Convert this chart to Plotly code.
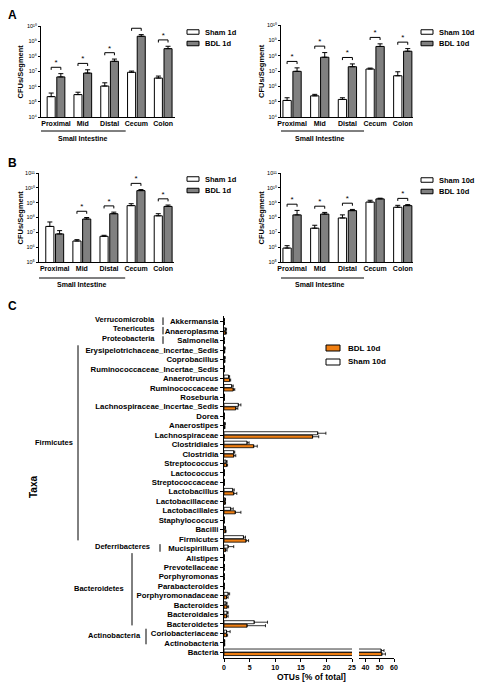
import plotly.graph_objects as go
import math

W, H = 482, 689
FONT = "Arial, Liberation Sans, sans-serif"
ORANGE = "#F07F12"
GRAY = "#808080"

# ---------------- data ----------------
segments = ["Proximal", "Mid", "Distal", "Cecum", "Colon"]

# Panel A, 1 day (CFU / segment, mean and SEM)
a1_sham = [2.2e5, 3.0e5, 1.1e6, 8.9e6, 3.7e6]
a1_sham_sem = [1.6e5, 1.3e5, 7.0e5, 1.8e6, 1.3e6]
a1_bdl = [4.4e6, 7.9e6, 4.7e7, 2.1e9, 3.2e8]
a1_bdl_sem = [2.8e6, 5.1e6, 1.9e7, 6.0e8, 1.4e8]
a1_sig = [True, True, True, True, True]

# Panel A, 10 days
a2_sham = [1.2e5, 2.4e5, 1.4e5, 1.35e7, 4.9e6]
a2_sham_sem = [6.0e4, 6.0e4, 4.0e4, 2.0e6, 4.0e6]
a2_bdl = [9.5e6, 7.9e7, 1.9e7, 4.0e8, 1.95e8]
a2_bdl_sem = [6.5e6, 8.0e7, 1.0e7, 1.9e8, 9.5e7]
a2_sig = [True, True, True, True, True]

# Panel B, 1 day
b1_sham = [2.5e7, 2.6e6, 5.4e6, 6.3e8, 1.3e8]
b1_sham_sem = [2.5e7, 6.0e5, 9.0e5, 2.2e8, 5.0e7]
b1_bdl = [7.8e6, 7.9e7, 1.8e8, 6.5e9, 5.6e8]
b1_bdl_sem = [5.2e6, 2.1e7, 5.0e7, 1.1e9, 1.3e8]
b1_sig = [False, True, True, True, True]

# Panel B, 10 days
b2_sham = [8.7e5, 1.9e7, 9.3e7, 1.1e9, 4.9e8]
b2_sham_sem = [3.9e5, 1.1e7, 5.7e7, 3.5e8, 1.7e8]
b2_bdl = [1.5e8, 1.7e8, 2.9e8, 1.8e9, 6.3e8]
b2_bdl_sem = [1.5e8, 5.0e7, 6.0e7, 2.0e8, 1.1e8]
b2_sig = [True, True, True, False, True]

# Panel C: OTUs [% of total]
taxa = ["Akkermansia", "Anaeroplasma", "Salmonella",
        "Erysipelotrichaceae_Incertae_Sedis", "Coprobacillus",
        "Ruminococcaceae_Incertae_Sedis", "Anaerotruncus", "Ruminococcaceae",
        "Roseburia", "Lachnospiraceae_Incertae_Sedis", "Dorea", "Anaerostipes",
        "Lachnospiraceae", "Clostridiales", "Clostridia", "Streptococcus",
        "Lactococcus", "Streptococcaceae", "Lactobacillus", "Lactobacillaceae",
        "Lactobacillales", "Staphylococcus", "Bacilli", "Firmicutes",
        "Mucispirillum", "Alistipes", "Prevotellaceae", "Porphyromonas",
        "Parabacteroides", "Porphyromonadaceae", "Bacteroides", "Bacteroidales",
        "Bacteroidetes", "Coriobacteriaceae", "Actinobacteria", "Bacteria"]
c_sham = [0.05, 0.3, 0.03, 0.1, 0.1, 0.03, 0.9, 1.5, 0.05, 2.8, 0.05, 0.15,
          18.3, 4.5, 1.9, 0.4, 0.05, 0.05, 1.7, 0.2, 1.3, 0.05, 0.2, 3.8,
          0.8, 0.05, 0.05, 0.03, 0.03, 0.8, 0.4, 0.6, 5.9, 0.5, 0.1, 51.0]
c_sham_sem = [0.05, 0.2, 0.02, 0.15, 0.15, 0.02, 0.2, 0.3, 0.03, 0.5, 0.03, 0.1,
              1.6, 0.4, 0.2, 0.2, 0.03, 0.03, 0.3, 0.1, 0.5, 0.03, 0.1, 0.4,
              1.1, 0.03, 0.03, 0.02, 0.02, 0.3, 0.2, 0.2, 2.6, 0.7, 0.05, 2.0]
c_bdl = [0.05, 0.3, 0.03, 0.05, 0.1, 0.02, 1.1, 1.8, 0.05, 2.3, 0.03, 0.1,
         17.3, 5.8, 1.9, 0.5, 0.05, 0.05, 1.9, 0.2, 2.2, 0.03, 0.3, 4.3,
         0.3, 0.03, 0.03, 0.02, 0.02, 0.5, 0.6, 0.5, 4.5, 0.5, 0.1, 51.5]
c_bdl_sem = [0.05, 0.2, 0.02, 0.1, 0.1, 0.02, 0.2, 0.3, 0.03, 0.4, 0.02, 0.1,
             1.2, 0.7, 0.4, 0.2, 0.03, 0.03, 0.6, 0.1, 1.1, 0.02, 0.1, 0.5,
             0.3, 0.02, 0.02, 0.01, 0.01, 0.3, 0.3, 0.3, 3.6, 0.2, 0.05, 2.5]

phyla = ["Verrucomicrobia", "Tenericutes", "Proteobacteria", "Firmicutes",
         "Deferribacteres", "Bacteroidetes", "Actinobacteria"]
phylum_first = ["Akkermansia", "Anaeroplasma", "Salmonella",
                "Erysipelotrichaceae_Incertae_Sedis", "Mucispirillum",
                "Alistipes", "Coriobacteriaceae"]
phylum_last = ["Akkermansia", "Anaeroplasma", "Salmonella", "Firmicutes",
               "Mucispirillum", "Bacteroidetes", "Actinobacteria"]

SUP = str.maketrans("0123456789", "⁰¹²³⁴⁵⁶⁷⁸⁹")

# ---------------- helpers ----------------
def xdom(a, b):
    return [a / W, b / W]

def ydom(top, bottom):
    return [1 - bottom / H, 1 - top / H]

def px(x):
    return x / W

def py(y):
    return 1 - y / H

def txt(x, y, text, size, xanchor="center", angle=0, xref="paper", yref="paper"):
    return dict(xref=xref, yref=yref, x=x, y=y, text=text, showarrow=False,
                xanchor=xanchor, yanchor="middle", textangle=angle,
                font=dict(family=FONT, size=size, color="black", weight="bold"))

def legend_box(x0, yc, names, colors, w, h, gap, size, pitch):
    """Legend drawn as swatches + labels (positions in px)."""
    for j, (nm, col) in enumerate(zip(names, colors)):
        y = yc + j * pitch
        shapes.append(dict(type="rect", xref="paper", yref="paper",
                           x0=px(x0), x1=px(x0 + w), y0=py(y - h / 2), y1=py(y + h / 2),
                           fillcolor=col, line=dict(color="black", width=1)))
        annotations.append(txt(px(x0 + w + gap), py(y), nm, size, xanchor="left"))

fig = go.Figure()
annotations = []
shapes = []

panels = [
    dict(sham=a1_sham, sham_sem=a1_sham_sem, bdl=a1_bdl, bdl_sem=a1_bdl_sem, sig=a1_sig,
         labels=("Sham 1d", "BDL 1d"), xd=(41, 175), yd=(26, 117), xr=[-0.56, 4.44],
         yexp=(4, 10), leg=(187, 32), si=(131, 138), ylab=20),
    dict(sham=a2_sham, sham_sem=a2_sham_sem, bdl=a2_bdl, bdl_sem=a2_bdl_sem, sig=a2_sig,
         labels=("Sham 10d", "BDL 10d"), xd=(281, 413), yd=(25, 117), xr=[-0.40, 4.37],
         yexp=(4, 10), leg=(421, 32), si=(131, 138), ylab=261),
    dict(sham=b1_sham, sham_sem=b1_sham_sem, bdl=b1_bdl, bdl_sem=b1_bdl_sem, sig=b1_sig,
         labels=("Sham 1d", "BDL 1d"), xd=(39, 174), yd=(173, 262), xr=[-0.58, 4.4],
         yexp=(5, 11), leg=(187, 179), si=(278, 285), ylab=20),
    dict(sham=b2_sham, sham_sem=b2_sham_sem, bdl=b2_bdl, bdl_sem=b2_bdl_sem, sig=b2_sig,
         labels=("Sham 10d", "BDL 10d"), xd=(281, 413), yd=(173, 262), xr=[-0.40, 4.37],
         yexp=(5, 11), leg=(421, 180), si=(278, 285), ylab=261),
]

idx = list(range(len(segments)))
layout_axes = {}
for k, p in enumerate(panels):
    n = k + 1
    xa = "x" if n == 1 else f"x{n}"
    ya = "y" if n == 1 else f"y{n}"
    for name, vals, sem, col, off in [(p["labels"][0], p["sham"], p["sham_sem"], "white", -0.33),
                                      (p["labels"][1], p["bdl"], p["bdl_sem"], GRAY, 0.03)]:
        fig.add_trace(go.Bar(
            x=idx, y=vals, name=name, width=0.30, offset=off,
            marker=dict(color=col, line=dict(color="black", width=1)),
            error_y=dict(type="data", array=sem, arrayminus=[0] * len(sem), symmetric=False,
                         color="black", thickness=1, width=2.5),
            xaxis=xa, yaxis=ya, showlegend=False))
    # significance brackets computed from the data
    bx, by, sx, sy = [], [], [], []
    for i in idx:
        if not p["sig"][i]:
            continue
        top = max(p["sham"][i] + p["sham_sem"][i], p["bdl"][i] + p["bdl_sem"][i])
        t = math.log10(top) + 0.42
        bx += [i - 0.18, i - 0.18, i + 0.18, i + 0.18, None]
        by += [10 ** (t - 0.17), 10 ** t, 10 ** t, 10 ** (t - 0.17), None]
        sx.append(i)
        sy.append(10 ** (t + 0.27))
    fig.add_trace(go.Scatter(x=bx, y=by, mode="lines", line=dict(color="black", width=1),
                             xaxis=xa, yaxis=ya, showlegend=False, hoverinfo="skip"))
    fig.add_trace(go.Scatter(x=sx, y=sy, mode="text", text=["*"] * len(sx),
                             textfont=dict(family=FONT, size=8, color="black"),
                             xaxis=xa, yaxis=ya, showlegend=False, hoverinfo="skip"))
    e0, e1 = p["yexp"]
    tickvals = [10 ** e for e in range(e0, e1 + 1)]
    ticktext = ["10" + str(e).translate(SUP) for e in range(e0, e1 + 1)]
    layout_axes["xaxis" if n == 1 else f"xaxis{n}"] = dict(
        domain=xdom(*p["xd"]), range=p["xr"], anchor=ya, tickmode="array",
        tickvals=idx, ticktext=segments, showline=True, linecolor="black", linewidth=1,
        ticks="", showgrid=False, zeroline=False,
        tickfont=dict(family=FONT, size=7, color="black", weight="bold"))
    layout_axes["yaxis" if n == 1 else f"yaxis{n}"] = dict(
        domain=ydom(*p["yd"]), type="log", range=[e0, e1], anchor=xa,
        tickmode="array", tickvals=tickvals, ticktext=ticktext,
        showline=True, linecolor="black", linewidth=1, ticks="outside", ticklen=2,
        tickcolor="black", showgrid=False, zeroline=False,
        tickfont=dict(family=FONT, size=5.5, color="black"))
    legend_box(p["leg"][0], p["leg"][1], [p["labels"][0], p["labels"][1]], ["white", GRAY],
               12, 4.5, 4, 7.5, 11.5)
    # Small Intestine grouping line + label
    i0 = segments.index("Proximal")
    i1 = segments.index("Distal")
    shapes.append(dict(type="line", xref=xa, yref="paper", x0=i0 - 0.6, x1=i1 + 0.6,
                       y0=py(p["si"][0]), y1=py(p["si"][0]), line=dict(color="black", width=1)))
    annotations.append(txt((i0 + i1) / 2, py(p["si"][1]), "Small Intestine", 7, xref=xa))
    annotations.append(txt(px(p["ylab"]), py((p["yd"][0] + p["yd"][1]) / 2), "CFUs/Segment",
                           7.5, angle=-90))

# ---------------- panel C ----------------
rows = list(range(len(taxa)))
for xa in ["x5", "x6"]:
    fig.add_trace(go.Bar(
        y=rows, x=c_sham, orientation="h", name="Sham 10d", width=0.32, offset=-0.35,
        marker=dict(color="white", line=dict(color="black", width=0.8)),
        error_x=dict(type="data", array=c_sham_sem, arrayminus=[0] * len(taxa), symmetric=False,
                     color="black", thickness=0.8, width=1.5),
        xaxis=xa, yaxis="y5", showlegend=False))
    fig.add_trace(go.Bar(
        y=rows, x=c_bdl, orientation="h", name="BDL 10d", width=0.32, offset=0.02,
        marker=dict(color=ORANGE, line=dict(color="black", width=0.8)),
        error_x=dict(type="data", array=c_bdl_sem, arrayminus=[0] * len(taxa), symmetric=False,
                     color="black", thickness=0.8, width=1.5),
        xaxis=xa, yaxis="y5", showlegend=False))

ctick = dict(family=FONT, size=7, color="black", weight="bold")
ytick = dict(family=FONT, size=7.8, color="black", weight="bold")
layout_axes["xaxis5"] = dict(domain=xdom(224, 352), range=[0, 25], anchor="y5",
                             tickvals=[0, 5, 10, 15, 20, 25], showline=True, linecolor="black",
                             linewidth=1, ticks="outside", ticklen=3, tickcolor="black",
                             showgrid=False, zeroline=False, tickfont=ctick)
layout_axes["xaxis6"] = dict(domain=xdom(359, 394), range=[35.5, 60], anchor="y5",
                             tickvals=[40, 50, 60], showline=True, linecolor="black",
                             linewidth=1, ticks="outside", ticklen=3, tickcolor="black",
                             showgrid=False, zeroline=False, tickfont=ctick)
layout_axes["yaxis5"] = dict(domain=ydom(316, 658), range=[35.6, -0.6], anchor="x5",
                             tickmode="array", tickvals=rows, ticktext=taxa,
                             showline=True, linecolor="black", linewidth=1, ticks="outside",
                             ticklen=3, tickcolor="black", showgrid=False, zeroline=False,
                             tickfont=ytick)
legend_box(326, 348, ["BDL 10d", "Sham 10d"], [ORANGE, "white"], 14, 6, 6, 8, 14)

# phylum brackets (style positions in px)
phylum_line_px = [163, 163, 163, 78, 160, 132, 146]
phylum_label_px = [157, 157, 157, 75, 152, 126, 143]
for name, f, l, lx, tx in zip(phyla, phylum_first, phylum_last, phylum_line_px, phylum_label_px):
    r0 = taxa.index(f)
    r1 = taxa.index(l)
    if r0 == r1:
        y0, y1 = r0 - 0.45, r1 + 0.35
    else:
        y0, y1 = r0 - 0.5, r1 + 0.15
    shapes.append(dict(type="line", xref="paper", yref="y5", x0=px(lx), x1=px(lx),
                       y0=y0, y1=y1, line=dict(color="black", width=1)))
    annotations.append(txt(px(tx), (r0 + r1) / 2 - 0.25, name, 7.5, xanchor="right", yref="y5"))

annotations.append(txt(px(311), py(677), "OTUs [% of total]", 8.5))
annotations.append(txt(px(33), py(487), "Taxa", 10, angle=-90))
for lab, (lx, ly) in zip(["A", "B", "C"], [(12, 15), (12, 163), (12, 306)]):
    annotations.append(txt(px(lx), py(ly), lab, 12))

fig.update_layout(
    template="none",
    width=W, height=H, autosize=False,
    margin=dict(l=0, r=0, t=0, b=0),
    paper_bgcolor="white", plot_bgcolor="white",
    barmode="overlay", showlegend=False,
    font=dict(family=FONT, color="black"),
    annotations=annotations, shapes=shapes,
    **layout_axes)

fig.write_html("out.html", config={"displayModeBar": False},
               post_script="document.body.style.margin='0';")
